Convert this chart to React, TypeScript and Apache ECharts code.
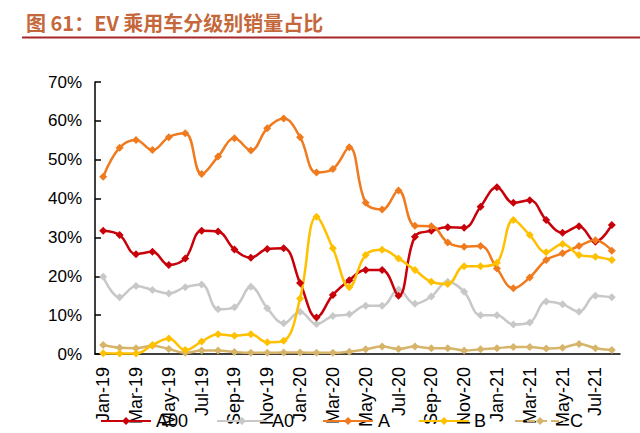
import { useEffect, useRef } from 'react';
import * as echarts from 'echarts';

const months = [
  'Jan-19', 'Feb-19', 'Mar-19', 'Apr-19', 'May-19', 'Jun-19', 'Jul-19', 'Aug-19',
  'Sep-19', 'Oct-19', 'Nov-19', 'Dec-19', 'Jan-20', 'Feb-20', 'Mar-20', 'Apr-20',
  'May-20', 'Jun-20', 'Jul-20', 'Aug-20', 'Sep-20', 'Oct-20', 'Nov-20', 'Dec-20',
  'Jan-21', 'Feb-21', 'Mar-21', 'Apr-21', 'May-21', 'Jun-21', 'Jul-21', 'Aug-21',
];

const seriesNames = ['A00', 'A0', 'A', 'B', 'C'];

const a00 = [
  31.7, 30.6, 25.7, 26.3, 22.9, 24.6, 31.7, 31.5, 26.9, 24.8, 27.0, 27.2, 18.3, 9.4, 15.2, 19.0,
  21.6, 21.6, 15.0, 30.2, 31.7, 32.6, 32.5, 37.9, 42.9, 38.9, 39.6, 34.5, 31.2, 32.9, 28.9, 33.2,
];
const a0 = [
  19.9, 14.6, 17.5, 16.5, 15.6, 17.2, 17.9, 11.5, 12.0, 17.3, 11.8, 7.9, 10.9, 7.7, 9.8, 10.2,
  12.4, 12.4, 16.6, 12.9, 14.8, 18.6, 16.0, 10.0, 10.0, 7.6, 8.1, 13.5, 12.8, 10.9, 15.0, 14.6,
];
const aClass = [
  45.6, 53.1, 55.1, 52.5, 55.8, 56.8, 46.3, 50.8, 55.5, 52.4, 58.1, 60.6, 55.8, 46.7, 47.6, 53.2,
  38.9, 37.2, 42.1, 33.0, 32.9, 28.7, 27.6, 27.8, 22.0, 16.9, 19.7, 24.2, 25.9, 27.8, 29.3, 26.6,
];
const bClass = [
  0.2, 0.1, 0.1, 2.3, 4.0, 1.0, 3.2, 5.1, 4.7, 5.1, 3.0, 3.4, 14.3, 35.3, 27.2, 17.2,
  25.5, 26.8, 24.6, 21.6, 18.6, 18.0, 22.6, 22.6, 23.5, 34.5, 30.6, 26.2, 28.3, 25.5, 25.0, 24.2,
];
const cClass = [
  2.3, 1.6, 1.5, 2.1, 1.3, 0.3, 0.9, 0.9, 0.5, 0.3, 0.3, 0.4, 0.4, 0.3, 0.3, 0.6,
  1.2, 1.9, 1.3, 1.9, 1.5, 1.5, 0.9, 1.2, 1.5, 1.8, 1.8, 1.4, 1.6, 2.6, 1.5, 1.0,
];

const colors = ['#c8000a', '#c8c8c8', '#f07a1e', '#ffc000', '#d6b46a'];

const FONT = '"Liberation Sans", Arial, sans-serif';

export default function App() {
  const chartRef = useRef<HTMLDivElement>(null);

  useEffect(() => {
    if (!chartRef.current) return;
    const chart = echarts.init(chartRef.current, null, { renderer: 'svg' });

    const values = [a00, a0, aClass, bClass, cClass];

    const option: echarts.EChartsOption = {
      animation: false,
      backgroundColor: '#ffffff',
      title: {
        text: '图 61：EV 乘用车分级别销量占比',
        left: 21,
        top: 7,
        textStyle: {
          fontSize: 20,
          fontWeight: 'bold',
          color: '#c4683c',
          fontFamily: '"Noto Sans CJK SC", sans-serif',
        },
      },
      graphic: [
        {
          type: 'line',
          shape: { x1: 22, y1: 37.5, x2: 640, y2: 37.5 },
          style: { stroke: '#a8262a', lineWidth: 2 },
        },
      ],
      legend: {
        left: 95,
        top: 407,
        itemWidth: 50,
        itemHeight: 10,
        itemGap: 28,
        textStyle: { fontSize: 18, color: '#000', fontFamily: FONT },
        data: seriesNames.map((n, i) =>
          i === 4
            ? { name: n, lineStyle: { type: 'dashed' } }
            : { name: n },
        ) as any,
      },
      grid: {
        left: 95,
        right: 20,
        top: 82,
        bottom: 79,
      },
      xAxis: {
        type: 'category',
        data: months,
        boundaryGap: true,
        axisLine: { lineStyle: { color: '#000', width: 1.5 } },
        axisTick: { inside: true, length: 6, interval: 1, lineStyle: { color: '#000', width: 1.5 } },
        axisLabel: {
          interval: 1,
          rotate: 90,
          fontSize: 18,
          color: '#000',
          fontFamily: FONT,
          margin: 13,
        },
      },
      yAxis: {
        type: 'value',
        min: 0,
        max: 70,
        interval: 10,
        splitLine: { show: false },
        axisLine: { show: true, lineStyle: { color: '#000', width: 1.5 } },
        axisTick: { show: true, inside: true, length: 6, lineStyle: { color: '#000', width: 1.5 } },
        axisLabel: {
          formatter: '{value}%',
          fontSize: 17,
          color: '#000',
          fontFamily: FONT,
          margin: 13,
        },
      },
      series: seriesNames.map((n, i) => ({
        name: n,
        type: 'line',
        data: values[i],
        smooth: 0.4,
        symbol: 'diamond',
        symbolSize: 8,
        showSymbol: true,
        z: i === 1 || i === 4 ? 1 : 2,
        lineStyle: { color: colors[i], width: 2.5 },
        itemStyle: { color: colors[i] },
      })),
    };

    chart.setOption(option);
    return () => {
      chart.dispose();
    };
  }, []);

  return (
    <div
      ref={chartRef}
      style={{ position: 'fixed', left: 0, top: 0, width: 640, height: 433 }}
    />
  );
}
